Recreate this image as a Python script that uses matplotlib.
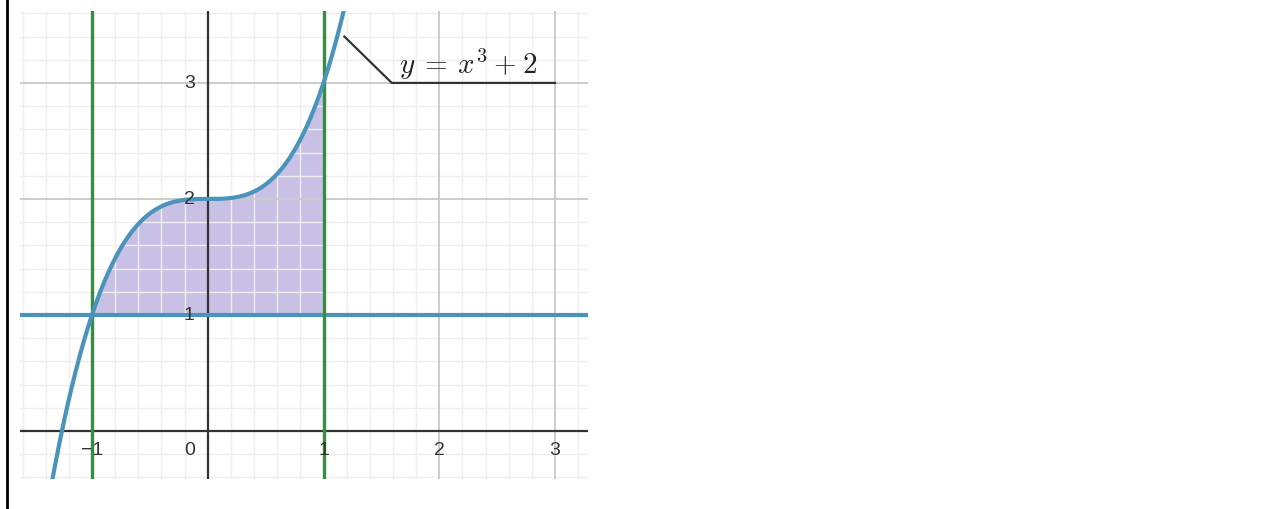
import numpy as np
import matplotlib
matplotlib.use("Agg")
import matplotlib.pyplot as plt
from matplotlib.lines import Line2D

plt.rcParams['mathtext.fontset'] = 'cm'
plt.rcParams['font.family'] = ['Liberation Sans', 'DejaVu Sans']

# view window and region bounds
x_min, x_max = -1.622, 3.285
y_min, y_max = -0.414, 3.62
bounds = [-1, 1]          # vertical green lines x = -1, x = 1
baseline = 1              # horizontal line y = 1
x_ticks = [-1, 0, 1, 2, 3]
x_tick_labels = ['\u22121', '0', '1', '2', '3']
y_ticks = [1, 2, 3]
y_tick_labels = ['1', '2', '3']
curve_label = r'$y\:=\:x^3\:+\:2$'

def f(x):
    return x ** 3 + 2

blue = '#4a94bb'
green = '#3a8c45'
purple = '#c9c0e5'

fig = plt.figure(figsize=(12.75, 5.1), dpi=100)
ax = fig.add_axes([20 / 1275, 30 / 510, 568 / 1275, 468 / 510])
ax.set_xlim(x_min, x_max)
ax.set_ylim(y_min, y_max)

# grid
for v in np.arange(-1.6, 3.3, 0.2):
    if abs(v - round(v)) > 1e-6:
        ax.axvline(v, color='#eeeeee', lw=1.0, zorder=1)
for v in np.arange(-0.4, 3.7, 0.2):
    if abs(v - round(v)) > 1e-6:
        ax.axhline(v, color='#eeeeee', lw=1.0, zorder=1)
for v in [-1, 1, 2, 3]:
    ax.axvline(v, color='#cccccc', lw=1.4, zorder=1)
for v in [1, 2, 3]:
    ax.axhline(v, color='#cccccc', lw=1.4, zorder=1)

# axes
ax.axvline(0, color='#333333', lw=1.6, zorder=2)
ax.axhline(0, color='#333333', lw=1.6, zorder=2)

# shaded region
xs = np.linspace(bounds[0], bounds[1], 300)
ax.fill_between(xs, baseline, f(xs), color=purple, lw=0, zorder=0.5)

# lines
xx = np.linspace(x_min, x_max, 800)
ax.plot(xx, f(xx), color=blue, lw=3.0, zorder=4, solid_capstyle='butt')
ax.axhline(baseline, color=blue, lw=3.0, zorder=3)
for b in bounds:
    ax.axvline(b, color=green, lw=2.4, zorder=3)

# tick labels
for t, lab in zip(x_ticks, x_tick_labels):
    dx = -0.16 if t == 0 else 0.0
    ax.text(t + dx, -0.16, lab, ha='center', va='center', fontsize=14,
            color='#333333', zorder=5)
for t, lab in zip(y_ticks, y_tick_labels):
    ax.text(-0.16, t, lab, ha='center', va='center', fontsize=14,
            color='#333333', zorder=5)

# label with leader line
ax.plot([1.18, 1.59, 3.0], [3.4, 3.0, 3.0], color='#333333', lw=1.6, zorder=5)
ax.text(1.65, 3.02, curve_label, fontsize=21, ha='left', va='bottom',
        color='#222222', zorder=5)

ax.set_xticks([])
ax.set_yticks([])
for s in ax.spines.values():
    s.set_visible(False)

fig.add_artist(Line2D([6.5 / 1275, 6.5 / 1275], [0, 1], color='black', lw=2))

fig.savefig('out.png', dpi=100)
